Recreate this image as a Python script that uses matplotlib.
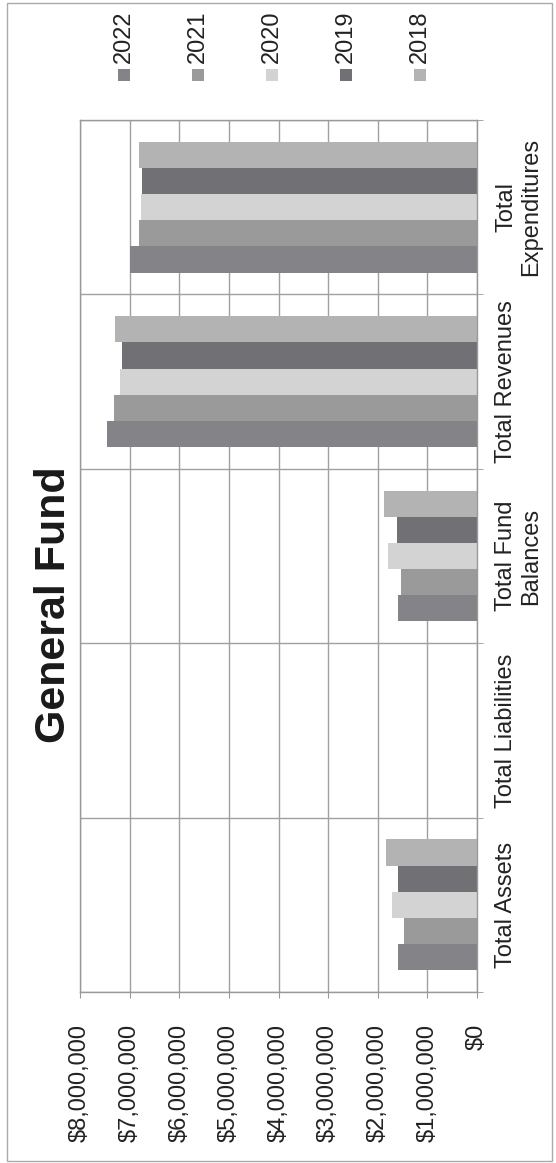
import matplotlib
matplotlib.use('Agg')
import matplotlib.pyplot as plt
from matplotlib.patches import Rectangle
from matplotlib.ticker import FuncFormatter
import numpy as np

plt.rcParams['font.family'] = ['Liberation Sans', 'DejaVu Sans']

categories = ['Total Assets', 'Total Liabilities', 'Total Fund\nBalances',
              'Total Revenues', 'Total\nExpenditures']
years = ['2022', '2021', '2020', '2019', '2018']
v2022 = [1.60e6, 0, 1.60e6, 7.45e6, 6.99e6]
v2021 = [1.48e6, 0, 1.54e6, 7.31e6, 6.81e6]
v2020 = [1.72e6, 0, 1.80e6, 7.19e6, 6.77e6]
v2019 = [1.60e6, 0, 1.62e6, 7.15e6, 6.75e6]
v2018 = [1.84e6, 0, 1.88e6, 7.29e6, 6.81e6]
series = [v2022, v2021, v2020, v2019, v2018]
colors = ['#848488', '#9a9a9a', '#d3d3d3', '#717175', '#b3b3b3']
xticks = [0, 1e6, 2e6, 3e6, 4e6, 5e6, 6e6, 7e6, 8e6]

W, H = 556, 1163
fig = plt.figure(figsize=(W / 100, H / 100), dpi=100)
ax = fig.add_axes([80 / W, 171 / H, 397 / W, 872 / H])

bh = 0.15
y = np.arange(len(categories))
for i, (yr, vals, c) in enumerate(zip(years, series, colors)):
    ax.barh(y + (i - 2) * bh, vals, height=bh, color=c, edgecolor='none', zorder=2)

ax.set_xlim(8e6, 0)
ax.set_ylim(-0.5, len(categories) - 0.5)
ax.set_xticks(xticks)
ax.xaxis.set_major_formatter(FuncFormatter(lambda v, p: '${:,.0f}'.format(v)))
ax.tick_params(axis='x', labelrotation=90, length=4, direction='out', pad=19,
               labelsize=17, color='#999999', labelcolor='#222222')

ax.yaxis.tick_right()
ax.set_yticks(y)
ax.set_yticklabels(categories, rotation=90, ha='left', va='center',
                   multialignment='center', fontsize=17, color='#222222')
ax.set_yticks(np.arange(-0.5, len(categories), 1.0), minor=True)
ax.tick_params(axis='y', which='major', length=0, pad=13)
ax.tick_params(axis='y', which='minor', length=4, direction='out', color='#999999')

ax.grid(axis='x', which='major', color='#a0a0a0', lw=1.0)
ax.grid(axis='y', which='minor', color='#a0a0a0', lw=1.0)
ax.set_axisbelow(True)
for s in ax.spines.values():
    s.set_color('#999999')
    s.set_linewidth(1.0)

fig.text(54 / W, 1 - 605 / H, 'General Fund', rotation=90, ha='center', va='center',
         fontsize=31, fontweight='bold', color='#1a1a1a')

for i, (yr, c) in enumerate(zip(years, colors)):
    cx = 124 + 74 * i
    fig.add_artist(Rectangle(((cx - 6) / W, 1 - 81 / H), 12 / W, 12 / H,
                             transform=fig.transFigure, facecolor=c, edgecolor='none'))
    fig.text(cx / W, 1 - 63 / H, yr, rotation=90, ha='center', va='bottom',
             fontsize=17, color='#222222')

fig.add_artist(Rectangle((7 / W, 2 / H), 545 / W, 1158 / H, transform=fig.transFigure,
                         fill=False, edgecolor='#aaaaaa', lw=1.0))

fig.savefig('out.png', dpi=100)
